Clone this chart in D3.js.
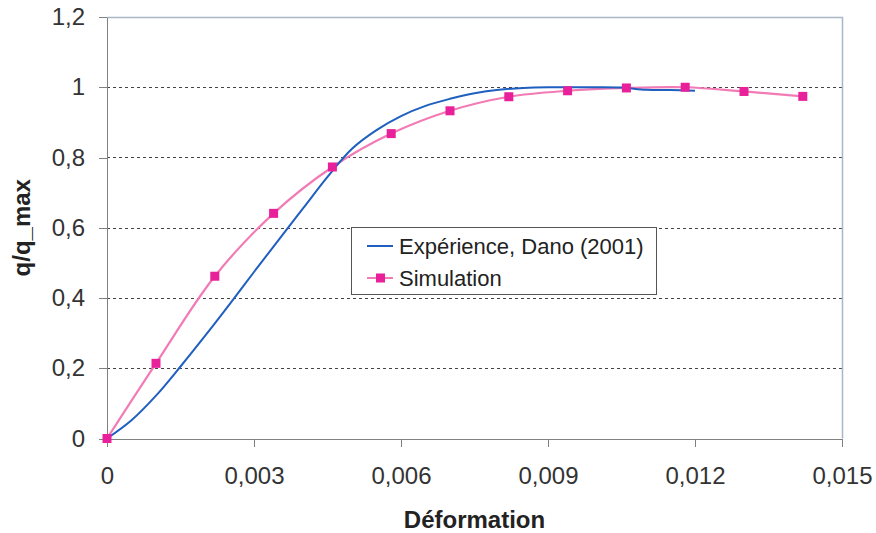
<!DOCTYPE html>
<html lang="fr">
  <head>
    <meta charset="utf-8">
    <title>q/q_max - Déformation</title>
    <script src="https://cdn.jsdelivr.net/npm/d3@7/dist/d3.min.js"></script>
    <style>
      body { margin: 0; background: #fff; }
      .axis path, .axis line { stroke: #808080; shape-rendering: crispEdges; }
      .axis text { font-family: "Liberation Sans", Arial, sans-serif; font-size: 24px; fill: #333; }
      .grid line { stroke: #444; stroke-dasharray: 3,3; shape-rendering: crispEdges; }
    </style>
  </head>
  <body>
    <script>
      // Expérience, Dano (2001)
      var expX = [0, 0.0005, 0.001, 0.0015, 0.002, 0.0025, 0.003, 0.0035, 0.004, 0.0045, 0.005,
                  0.0055, 0.006, 0.0065, 0.007, 0.0075, 0.008, 0.0085, 0.009, 0.0095, 0.01,
                  0.0105, 0.011, 0.0115, 0.012];
      var expY = [0, 0.052, 0.122, 0.205, 0.292, 0.382, 0.474, 0.565, 0.655, 0.745, 0.825,
                  0.878, 0.918, 0.947, 0.967, 0.983, 0.993, 0.998, 1.0, 1.0, 1.0,
                  0.999, 0.993, 0.992, 0.99];
      // Simulation
      var simX = [0, 0.001, 0.0022, 0.0034, 0.0046, 0.0058, 0.007, 0.0082, 0.0094, 0.0106, 0.0118, 0.013, 0.0142];
      var simY = [0, 0.214, 0.462, 0.641, 0.773, 0.868, 0.933, 0.973, 0.99, 0.998, 1.0, 0.988, 0.974];

      var xTicks = [0, 0.003, 0.006, 0.009, 0.012, 0.015];
      var yTicks = [0, 0.2, 0.4, 0.6, 0.8, 1, 1.2];
      var seriesNames = ["Expérience, Dano (2001)", "Simulation"];

      var w = 876, h = 533;
      var padLeft = 107, padRight = 842, padTop = 17, padBottom = 438.5;

      var xScale = d3.scaleLinear().domain([0, 0.015]).range([padLeft, padRight]);
      var yScale = d3.scaleLinear().domain([0, 1.2]).range([padBottom, padTop]);

      var fmt = function (d) { return String(+d.toFixed(3)).replace(".", ","); };

      var svg = d3.select("body").append("svg")
                  .attr("width", w)
                  .attr("height", h);

      // dashed grid
      svg.append("g")
         .attr("class", "grid")
         .selectAll("line")
         .data(yTicks.filter(function (d) { return d > 0 && d < 1.2; }))
         .enter()
         .append("line")
         .attr("x1", padLeft)
         .attr("x2", padRight)
         .attr("y1", function (d) { return Math.round(yScale(d)) + 0.5; })
         .attr("y2", function (d) { return Math.round(yScale(d)) + 0.5; });

      // plot frame (top and right)
      svg.append("path")
         .attr("d", "M" + padLeft + "," + (Math.round(padTop) + 0.5) + "H" + (padRight + 0.5) + "V" + padBottom)
         .attr("fill", "none")
         .attr("stroke", "#a9b8c6")
         .attr("stroke-width", 1.5);

      var xAxis = d3.axisBottom(xScale).tickValues(xTicks).tickFormat(fmt).tickSizeInner(8).tickSizeOuter(0).tickPadding(20);
      var yAxis = d3.axisLeft(yScale).tickValues(yTicks).tickFormat(fmt).tickSizeInner(8).tickSizeOuter(0).tickPadding(14);

      svg.append("g")
         .attr("class", "x axis")
         .attr("transform", "translate(0," + padBottom + ")")
         .call(xAxis);

      svg.append("g")
         .attr("class", "y axis")
         .attr("transform", "translate(" + padLeft + ",0)")
         .call(yAxis);

      // axis titles
      svg.append("text")
         .attr("x", (padLeft + padRight) / 2)
         .attr("y", 528)
         .attr("text-anchor", "middle")
         .attr("font-family", "Liberation Sans, Arial, sans-serif")
         .attr("font-weight", "bold")
         .attr("font-size", "24px")
         .attr("fill", "#222")
         .text("Déformation");

      svg.append("text")
         .attr("transform", "translate(30," + yScale(0.6) + ") rotate(-90)")
         .attr("text-anchor", "middle")
         .attr("font-family", "Liberation Sans, Arial, sans-serif")
         .attr("font-weight", "bold")
         .attr("font-size", "24px")
         .attr("fill", "#222")
         .text("q/q_max");

      var expData = expX.map(function (x, i) { return [x, expY[i]]; });
      var simData = simX.map(function (x, i) { return [x, simY[i]]; });

      var line = d3.line()
                   .x(function (d) { return xScale(d[0]); })
                   .y(function (d) { return yScale(d[1]); })
                   .curve(d3.curveCatmullRom.alpha(0.5));

      svg.append("path")
         .datum(simData)
         .attr("fill", "none")
         .attr("stroke", "#f27bb6")
         .attr("stroke-width", 2.2)
         .attr("d", line);

      svg.append("path")
         .datum(expData)
         .attr("fill", "none")
         .attr("stroke", "#1f5fbf")
         .attr("stroke-width", 2)
         .attr("d", line);

      svg.append("g")
         .selectAll("rect")
         .data(simData)
         .enter()
         .append("rect")
         .attr("x", function (d) { return xScale(d[0]) - 4.5; })
         .attr("y", function (d) { return yScale(d[1]) - 4.5; })
         .attr("width", 9)
         .attr("height", 9)
         .attr("fill", "#e8209a");

      // legend
      var lg = svg.append("g").attr("transform", "translate(351,227)");
      lg.append("rect")
        .attr("x", 0.5).attr("y", 0.5)
        .attr("width", 305).attr("height", 67)
        .attr("fill", "#fff")
        .attr("stroke", "#555");

      var items = lg.selectAll(".item")
                    .data(seriesNames)
                    .enter()
                    .append("g")
                    .attr("class", "item")
                    .attr("transform", function (d, i) { return "translate(0," + (19 + i * 32) + ")"; });

      items.append("line")
           .attr("x1", 16).attr("x2", 42)
           .attr("stroke", function (d, i) { return i === 0 ? "#1f5fbf" : "#f27bb6"; })
           .attr("stroke-width", 2);

      items.filter(function (d, i) { return i === 1; })
           .append("rect")
           .attr("x", 25).attr("y", -4.5)
           .attr("width", 9).attr("height", 9)
           .attr("fill", "#e8209a");

      items.append("text")
           .attr("x", 48)
           .attr("dy", "0.36em")
           .attr("font-family", "Liberation Sans, Arial, sans-serif")
           .attr("font-size", "22px")
           .attr("fill", "#222")
           .text(function (d) { return d; });
    </script>
  </body>
</html>
